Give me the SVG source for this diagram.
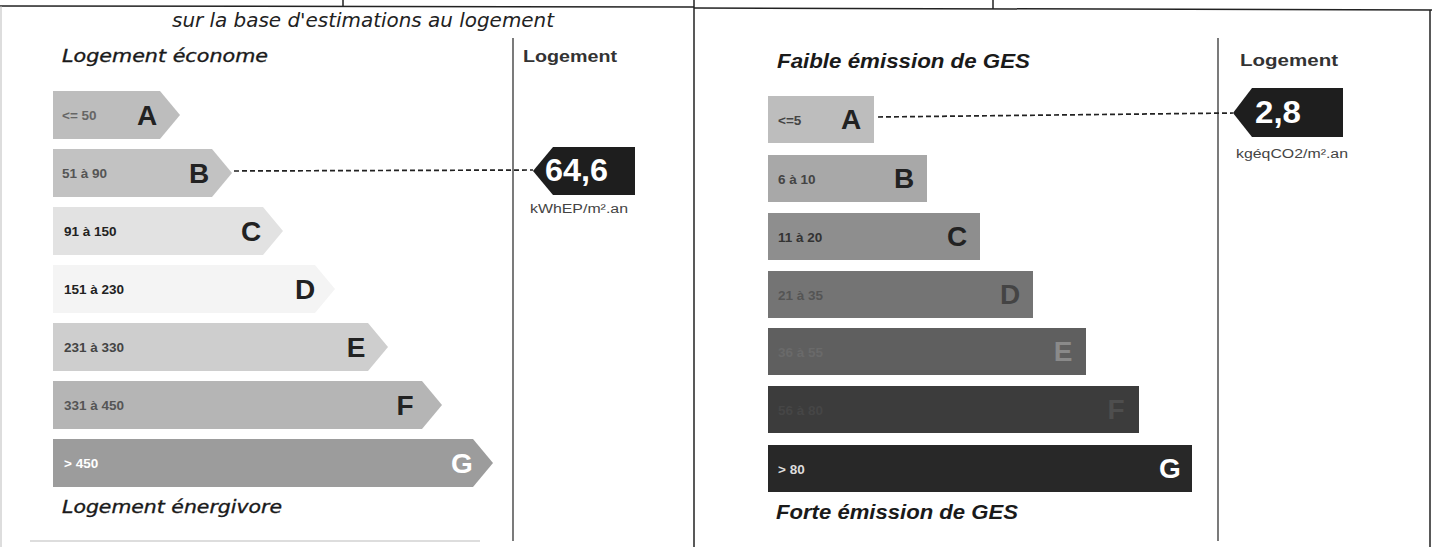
<svg xmlns="http://www.w3.org/2000/svg" width="1432" height="547" viewBox="0 0 1432 547">
<style>
.frame{stroke:#222;stroke-width:1.5;fill:none}
.faint{stroke:#bbb;stroke-width:1;fill:none}
.hdr{font-family:"DejaVu Sans",Verdana,sans-serif;font-style:italic;fill:#222}
.ges{font-family:"Liberation Sans",Arial,sans-serif;font-style:italic;font-weight:bold;fill:#1a1a1a}
.col{font-family:"Liberation Sans",Arial,sans-serif;font-weight:bold;fill:#333;font-size:16px}
.rng{font-family:"Liberation Sans",Arial,sans-serif;font-size:13.5px;font-weight:bold}
.let{font-family:"Liberation Sans",Arial,sans-serif;font-size:28px;font-weight:bold;text-anchor:middle}
.val{font-family:"Liberation Sans",Arial,sans-serif;font-size:32px;font-weight:bold;fill:#fff}
.unit{font-family:"Liberation Sans",Arial,sans-serif;font-size:12px;fill:#444}
.dash{stroke:#222;stroke-width:1.7;stroke-dasharray:5 3;fill:none}
.badge{fill:#1e1e1e}
</style>

<g id="frame">
<line class="frame" x1="0" y1="6" x2="694" y2="7"/>
<line class="frame" x1="694" y1="8" x2="1432" y2="10"/>
<line class="frame" x1="343" y1="0" x2="343" y2="7"/>
<line class="frame" x1="993" y1="0" x2="993" y2="9"/>
<line class="frame" x1="694" y1="0" x2="694" y2="547"/>
<line class="frame" x1="1430" y1="10" x2="1430" y2="547"/>
<line class="faint" x1="1" y1="6" x2="1" y2="547"/>
<line class="faint" x1="30" y1="541" x2="480" y2="541"/>
<line class="frame" x1="513" y1="38" x2="513" y2="541" style="stroke-width:1.2"/>
<line class="frame" x1="1218" y1="38" x2="1218" y2="541" style="stroke-width:1.2"/>
</g>

<g id="titles">
<text class="hdr" x="172" y="27" font-size="20" textLength="382" lengthAdjust="spacingAndGlyphs">sur la base d'estimations au logement</text>
<text class="hdr" x="62" y="62" font-size="17.5" style="fill:#1a1a1a;stroke:#1a1a1a;stroke-width:0.35" textLength="206" lengthAdjust="spacingAndGlyphs">Logement économe</text>
<text class="hdr" x="62" y="513" font-size="17.5" style="fill:#1a1a1a;stroke:#1a1a1a;stroke-width:0.35" textLength="220" lengthAdjust="spacingAndGlyphs">Logement énergivore</text>
<text class="col" x="523" y="62" textLength="94" lengthAdjust="spacingAndGlyphs">Logement</text>
<text class="ges" x="777" y="68" font-size="20" textLength="253" lengthAdjust="spacingAndGlyphs">Faible émission de GES</text>
<text class="ges" x="776" y="519" font-size="20" textLength="242" lengthAdjust="spacingAndGlyphs">Forte émission de GES</text>
<text class="col" x="1240" y="66" textLength="98" lengthAdjust="spacingAndGlyphs">Logement</text>
</g>

<g id="energy-A">
<polygon points="53,91 160,91 180,115 160,139 53,139" fill="#bdbdbd"/>
<text class="rng" x="62" y="120" fill="#666">&lt;= 50</text>
<text class="let" x="147" y="125" fill="#222">A</text>
</g>
<g id="energy-B">
<polygon points="53,149 212,149 232,173 212,197 53,197" fill="#c2c2c2"/>
<text class="rng" x="62" y="178" fill="#555">51 à 90</text>
<text class="let" x="199" y="183" fill="#222">B</text>
</g>
<g id="energy-C">
<polygon points="53,207 263,207 283,231 263,255 53,255" fill="#e2e2e2"/>
<text class="rng" x="64" y="236" fill="#222">91 à 150</text>
<text class="let" x="251" y="241" fill="#222">C</text>
</g>
<g id="energy-D">
<polygon points="53,265 315,265 335,289 315,313 53,313" fill="#f4f4f4"/>
<text class="rng" x="64" y="294" fill="#222">151 à 230</text>
<text class="let" x="305" y="299" fill="#222">D</text>
</g>
<g id="energy-E">
<polygon points="53,323 368,323 388,347 368,371 53,371" fill="#cecece"/>
<text class="rng" x="64" y="352" fill="#444">231 à 330</text>
<text class="let" x="356" y="357" fill="#222">E</text>
</g>
<g id="energy-F">
<polygon points="53,381 422,381 442,405 422,429 53,429" fill="#b5b5b5"/>
<text class="rng" x="64" y="410" fill="#555">331 à 450</text>
<text class="let" x="405" y="415" fill="#222">F</text>
</g>
<g id="energy-G">
<polygon points="53,439 473,439 493,463 473,487 53,487" fill="#9c9c9c"/>
<text class="rng" x="64" y="468" fill="#fff">&gt; 450</text>
<text class="let" x="462" y="473" fill="#fff">G</text>
</g>

<g id="ges-A">
<rect x="768" y="96" width="106" height="47" fill="#bdbdbd"/>
<text class="rng" x="778" y="125" fill="#444">&lt;=5</text>
<text class="let" x="851" y="129" fill="#222">A</text>
</g>
<g id="ges-B">
<rect x="768" y="155" width="159" height="47" fill="#a8a8a8"/>
<text class="rng" x="778" y="184" fill="#444">6 à 10</text>
<text class="let" x="904" y="188" fill="#222">B</text>
</g>
<g id="ges-C">
<rect x="768" y="213" width="212" height="47" fill="#8e8e8e"/>
<text class="rng" x="778" y="242" fill="#333">11 à 20</text>
<text class="let" x="957" y="246" fill="#222">C</text>
</g>
<g id="ges-D">
<rect x="768" y="271" width="265" height="47" fill="#747474"/>
<text class="rng" x="778" y="300" fill="#555">21 à 35</text>
<text class="let" x="1010" y="304" fill="#444">D</text>
</g>
<g id="ges-E">
<rect x="768" y="328" width="318" height="47" fill="#5f5f5f"/>
<text class="rng" x="778" y="357" fill="#6a6a6a">36 à 55</text>
<text class="let" x="1063" y="361" fill="#8a8a8a">E</text>
</g>
<g id="ges-F">
<rect x="768" y="386" width="371" height="47" fill="#3c3c3c"/>
<text class="rng" x="778" y="415" fill="#464646">56 à 80</text>
<text class="let" x="1116" y="419" fill="#4e4e4e">F</text>
</g>
<g id="ges-G">
<rect x="768" y="445" width="424" height="47" fill="#282828"/>
<text class="rng" x="778" y="474" fill="#ddd">&gt; 80</text>
<text class="let" x="1170" y="478" fill="#fff">G</text>
</g>

<g id="value-energy">
<polygon class="badge" points="533,171 553,147 635,147 635,195 553,195"/>
<text class="val" x="545" y="181" textLength="63" lengthAdjust="spacingAndGlyphs">64,6</text>
<text class="unit" x="530" y="213" textLength="98" lengthAdjust="spacingAndGlyphs">kWhEP/m².an</text>
</g>
<g id="value-ges">
<polygon class="badge" points="1233,113 1252,88 1343,88 1343,137 1252,137"/>
<text class="val" x="1255" y="123" textLength="46" lengthAdjust="spacingAndGlyphs">2,8</text>
<text class="unit" x="1236" y="158" textLength="112" lengthAdjust="spacingAndGlyphs">kgéqCO2/m².an</text>
</g>

<g id="connectors">
<line class="dash" x1="234" y1="171" x2="533" y2="170"/>
<line class="dash" x1="878" y1="117" x2="1233" y2="113"/>
</g>
</svg>
